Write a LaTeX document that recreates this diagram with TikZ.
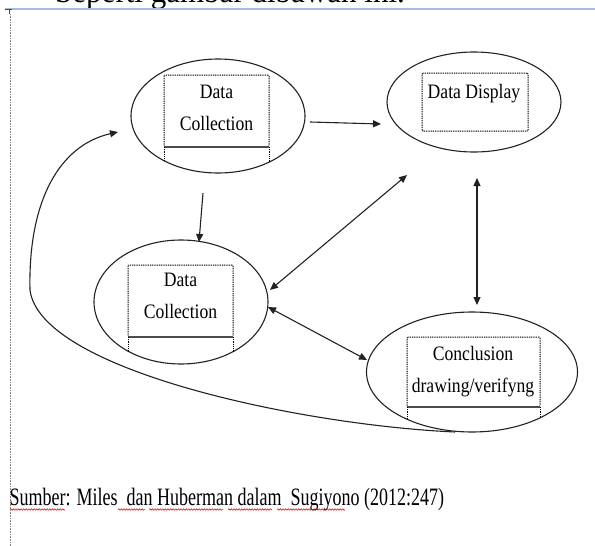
\documentclass[tikz,border=0pt]{standalone}
\usepackage{fontspec}
\setmainfont{Liberation Serif}
\newfontfamily\dfont[FakeStretch=0.86]{Liberation Serif}
\newfontfamily\cfont[FakeStretch=0.72]{Liberation Serif}
\newfontfamily\tfont[FakeStretch=0.94]{Liberation Serif}
\usetikzlibrary{shapes.geometric,arrows.meta,decorations.pathmorphing,calc}
\definecolor{blueline}{HTML}{A3BDE3}
\definecolor{lnk}{HTML}{222222}
\begin{document}
\begin{tikzpicture}[x=1pt,y=-1pt,
  ell/.style={draw=lnk, line width=1.1pt, ellipse, inner sep=0pt, outer sep=0pt},
  box/.style={draw=black, line width=1pt, dash pattern=on 1pt off 0.8pt, rounded corners=1pt, inner sep=0pt, outer sep=0pt},
  boxline/.style={draw=black, line width=1pt, dash pattern=on 1pt off 0.8pt},
  thickdots/.style={draw=black!70, line width=1.6pt},
  lbl/.style={font=\dfont\fontsize{20.5}{32.5}\selectfont, align=center, inner sep=0pt, anchor=north, text=black},
  arr/.style={-{Triangle[length=8pt,width=7pt]}, line width=1.1pt, draw=lnk},
  darr/.style={{Triangle[length=8pt,width=7pt]}-{Triangle[length=8pt,width=7pt]}, line width=1.1pt, draw=lnk},
  squig/.style={draw=red!85!black, line width=0.5pt, decorate, decoration={snake, amplitude=0.8pt, segment length=2.6pt}}
]
\useasboundingbox (0,0) rectangle (595,546);
\clip (0,0) rectangle (595,546);

% page furniture
\node[font=\tfont\fontsize{33}{40}\selectfont, anchor=base west, inner sep=0pt] (top) at (55,2) {Seperti gambar dibawah ini.};
\draw[blueline, line width=1.2pt] (5,9) -- (595,9);
\draw[black!70, line width=0.8pt] (5,9.5) -- (12,9.5);
\draw[black!70, line width=0.8pt] (9,9) -- (9,14);
\draw[gray, line width=0.9pt, dash pattern=on 0.8pt off 0.8pt] (10,14) -- (10,546);

% ellipses
\node[ell, minimum width=174pt, minimum height=114pt] (e1) at (218,116) {};
\node[ell, minimum width=174pt, minimum height=124pt] (e2) at (181,302) {};
\node[ell, minimum width=174pt, minimum height=100pt] (e3) at (474,102) {};
\node[ell, minimum width=211pt, minimum height=120pt] (e4) at (472,372) {};

% dotted text boxes
\node[box, minimum width=105pt, minimum height=72pt] (r1) at (216.5,111) {};
\node[box, minimum width=105pt, minimum height=72pt] (r2) at (180.5,301) {};
\node[box, minimum width=106pt, minimum height=58pt] (r3) at (475,102) {};
\node[box, minimum width=133pt, minimum height=70pt] (r4) at (473.5,372) {};

\draw[thickdots] (r1.south west) -- (r1.south east);
\draw[thickdots] (r2.south west) -- (r2.south east);
\draw[thickdots] (r4.south west) -- (r4.south east);

\begin{scope}
  \clip (218,116) ellipse [x radius=87, y radius=57];
  \draw[boxline] (r1.south west) -- ++(0,40);
  \draw[boxline] (r1.south east) -- ++(0,40);
\end{scope}
\begin{scope}
  \clip (181,302) ellipse [x radius=87, y radius=62];
  \draw[boxline] (r2.south west) -- ++(0,40);
  \draw[boxline] (r2.south east) -- ++(0,40);
\end{scope}
\begin{scope}
  \clip (472,372) ellipse [x radius=105.5, y radius=60];
  \draw[boxline] (r4.south west) -- ++(0,40);
  \draw[boxline] (r4.south east) -- ++(0,40);
\end{scope}

% labels
\node[lbl] (t1) at (216.5,84.5) {Data\\Collection};
\node[lbl] (t2) at (180.5,272.5) {Data\\Collection};
\node[lbl] (t3) at (474,84) {Data Display};
\node[lbl] (t4) at (473,346) {Conclusion\\drawing/verifyng};

% connector end points
\coordinate (a1s) at ($(e1.east)+(5,6)$);
\coordinate (a1e) at ($(e3.west)+(-6,22)$);
\coordinate (a2s) at ($(e1.south)+(-15,20)$);
\coordinate (a2e) at ($(e2.north)+(18,2)$);
\coordinate (a3s) at ($(e2.east)+(2,-12)$);
\coordinate (a3e) at ($(e3.south)+(-67,23)$);
\coordinate (a4s) at ($(e3.south)+(3,26)$);
\coordinate (a4e) at ($(e4.north)+(5,-7)$);
\coordinate (a5s) at ($(e2.east)+(0,5)$);
\coordinate (a5e) at ($(e4.west)+(0.5,-12)$);
\coordinate (a6s) at ($(e4.south)+(-17,0)$);
\coordinate (a6e) at ($(e1.west)+(-13,16)$);

% connectors
\draw[arr] (a1s) -- (a1e);
\draw[arr] (a2s) -- (a2e);
\draw[darr] (a3s) -- (a3e);
\draw[darr] (a4s) -- (a4e);
\draw[darr] (a5s) -- (a5e);
\draw[arr] (a6s) .. controls (300,425) and (40,370) .. (30,290)
               .. controls (28,200) and (60,145) .. (a6e);

% caption
\node[font=\cfont\fontsize{25}{30}\selectfont, anchor=base west, inner sep=0pt] (cap) at (9.5,505)
  {Sumber: Miles\ \ dan Huberman dalam\ \ Sugiyono (2012:247)};
\draw[squig] (10,509.5) -- (65,509.5);
\draw[squig] (118,509.5) -- (145,509.5);
\draw[squig] (149,509.5) -- (223,509.5);
\draw[squig] (228,509.5) -- (272,509.5);
\draw[squig] (277,509.5) -- (345,509.5);
\end{tikzpicture}
\end{document}
